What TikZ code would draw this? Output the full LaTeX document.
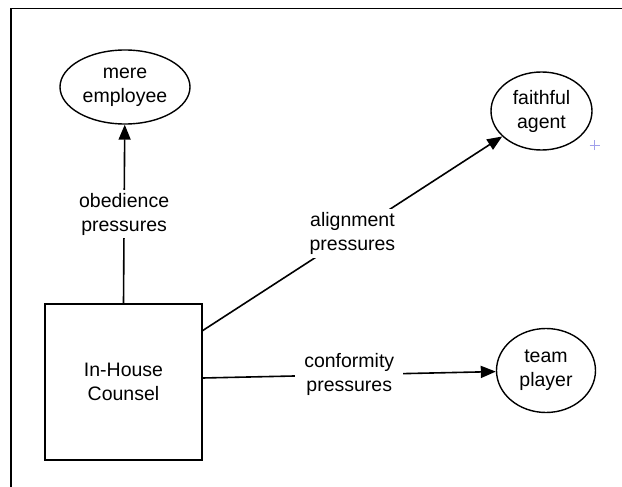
\documentclass[tikz,border=0pt]{standalone}
\usepackage{fontspec}
\setmainfont{Liberation Sans}
\usetikzlibrary{arrows.meta,shapes.geometric}
\definecolor{plusblue}{RGB}{160,160,235}
\tikzset{
  txt/.style={font=\fontsize{19.5}{24}\selectfont, align=center},
  oval/.style={ellipse, draw, line width=1.4pt, inner sep=0pt, txt},
  boxnode/.style={rectangle, draw, line width=1.3pt, inner sep=0pt, txt},
  conn/.style={line width=1.6pt, -{Triangle[length=15pt,width=12pt]}},
  lbl/.style={txt, fill=white, inner xsep=9pt, inner ysep=3pt}
}
\begin{document}
\begin{tikzpicture}[x=1pt,y=-1pt]
\useasboundingbox (0,0) rectangle (622,487);
\fill[white] (0,0) rectangle (622,487);
% frame
\draw[line width=1.6pt] (11,490) -- (11,8.5) -- (625,8.5);
% nodes
\node[boxnode, minimum width=157pt, minimum height=156pt] (box) at (123.5,382) {In-House\\Counsel};
\node[oval, minimum width=130pt, minimum height=74pt] (mere) at (125,87) {mere\\employee};
\node[oval, minimum width=101pt, minimum height=78pt] (faith) at (541.5,111) {faithful\\agent};
\node[oval, minimum width=99pt, minimum height=84pt] (team) at (546,370.5) {team\\player};
% connectors
\draw[conn] (box.north) -- node[lbl] (lobed) {obedience\\pressures} (mere);
\draw[conn] (box.33) -- node[lbl, inner xsep=3pt] (lalign) {alignment\\pressures} (faith);
\draw[conn] ([yshift=4pt]box.east) -- node[lbl] (lconf) {conformity\\pressures} (team);
% plus marker
\coordinate (plus) at (594.5,145);
\draw[plusblue, line width=0.9pt] ([xshift=-5pt]plus) -- ([xshift=5pt]plus)
  ([yshift=-5pt]plus) -- ([yshift=5pt]plus);
\end{tikzpicture}
\end{document}
